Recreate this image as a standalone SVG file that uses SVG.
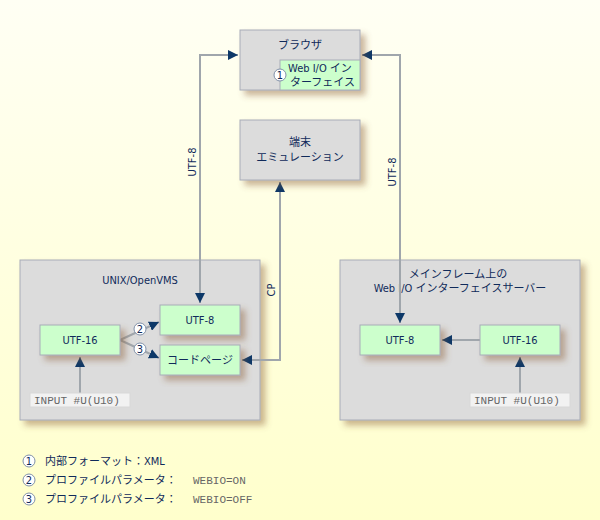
<svg xmlns="http://www.w3.org/2000/svg" width="600" height="520" viewBox="0 0 600 520">
<defs>
<linearGradient id="bg" x1="0" y1="0" x2="0" y2="1">
<stop offset="0" stop-color="#fffff4"/>
<stop offset="1" stop-color="#ffffcc"/>
</linearGradient>
<filter id="sh" x="-20%" y="-20%" width="150%" height="160%">
<feDropShadow dx="5" dy="5" stdDeviation="3" flood-color="#8a5a30" flood-opacity="0.45"/>
</filter>
<marker id="ah" viewBox="0 0 10 10" refX="10" refY="5" markerWidth="10" markerHeight="10" markerUnits="userSpaceOnUse" orient="auto-start-reverse">
<path d="M0,0 L10,5 L0,10 z" fill="#0d3868"/>
</marker>
<style>
.grp{fill:#dcdcdc;stroke:#a8acb8;stroke-width:1}
.box{fill:#dcdcdc;stroke:#a8acb8;stroke-width:1;filter:url(#sh)}
.gbox{fill:#ccffcc;stroke:#a8acb8;stroke-width:1}
.gboxs{fill:#ccffcc;stroke:#a8acb8;stroke-width:1;filter:url(#sh)}
.t{font-family:"DejaVu Sans Condensed","DejaVu Sans","Noto Sans CJK JP",sans-serif;font-size:11px;fill:#102a5a;text-anchor:middle}
.tl{font-family:"DejaVu Sans Condensed","DejaVu Sans","Noto Sans CJK JP",sans-serif;font-size:11px;fill:#102a5a}
.m{font-family:"Liberation Mono","DejaVu Sans Mono",monospace;font-size:11px;fill:#666}
.inp{fill:#f2f2f2;stroke:#d8d8d8;stroke-width:1}
.ln{fill:none;stroke:#a0a6ac;stroke-width:2}
.c{fill:#fff;stroke:#8090a8;stroke-width:1}
.cn{font-family:"DejaVu Sans Condensed","DejaVu Sans",sans-serif;font-size:11px;fill:#102a5a;text-anchor:middle}
</style>
</defs>
<rect width="600" height="520" fill="url(#bg)"/>

<g id="unix-group">
<rect class="grp" x="20" y="260" width="240" height="160" filter="url(#sh)"/>
<text class="t" x="140" y="284">UNIX/OpenVMS</text>
</g>
<g id="mainframe-group">
<rect class="grp" x="340" y="260" width="240" height="160" filter="url(#sh)"/>
<text class="t" x="458" y="278">メインフレーム上の</text>
<text class="t" x="460" y="292">Web I/O インターフェイスサーバー</text>
</g>

<g id="connectors">
<path class="ln" d="M238,55 H200 V303" marker-start="url(#ah)" marker-end="url(#ah)"/>
<path class="ln" d="M362,55 H400 V323" marker-start="url(#ah)" marker-end="url(#ah)"/>
<path class="ln" d="M242,360 H280 V182" marker-start="url(#ah)" marker-end="url(#ah)"/>
<path class="ln" d="M80,393 V357" marker-end="url(#ah)"/>
<path class="ln" d="M520,393 V357" marker-end="url(#ah)"/>
<path class="ln" d="M480,340 H442" marker-end="url(#ah)"/>
<path class="ln" d="M120,340 L159,322" marker-end="url(#ah)"/>
<path class="ln" d="M120,340 L159,358" marker-end="url(#ah)"/>
<circle class="c" cx="140" cy="329" r="6"/>
<text class="cn" x="140" y="333">2</text>
<circle class="c" cx="140" cy="349" r="6"/>
<text class="cn" x="140" y="353">3</text>
<text class="t" transform="translate(196,162) rotate(-90)">UTF-8</text>
<text class="t" transform="translate(396,172) rotate(-90)">UTF-8</text>
<text class="t" transform="translate(275,290) rotate(-90)">CP</text>
</g>

<g id="browser">
<rect class="box" x="240" y="30" width="120" height="60"/>
<text class="t" x="300" y="49">ブラウザ</text>
<rect class="gbox" x="280" y="60" width="80" height="30"/>
<text class="tl" x="288" y="72">Web I/O イン</text>
<text class="tl" x="290" y="86">ターフェイス</text>
<circle class="c" cx="280" cy="75" r="6"/>
<text class="cn" x="280" y="79">1</text>
</g>

<g id="terminal">
<rect class="box" x="240" y="120" width="120" height="60"/>
<text class="t" x="300" y="146">端末</text>
<text class="t" x="300" y="161">エミュレーション</text>
</g>

<g id="unix-utf8">
<rect class="gboxs" x="160" y="305" width="80" height="30"/>
<text class="t" x="200" y="324">UTF-8</text>
</g>
<g id="unix-utf16">
<rect class="gboxs" x="40" y="325" width="80" height="30"/>
<text class="t" x="80" y="344">UTF-16</text>
</g>
<g id="unix-codepage">
<rect class="gboxs" x="160" y="345" width="80" height="30"/>
<text class="t" x="200" y="364">コードページ</text>
</g>
<g id="unix-input">
<rect class="inp" x="30" y="393" width="100" height="14"/>
<text class="m" x="34" y="404">INPUT #U(U10)</text>
</g>

<g id="mf-utf8">
<rect class="gboxs" x="360" y="325" width="80" height="30"/>
<text class="t" x="400" y="344">UTF-8</text>
</g>
<g id="mf-utf16">
<rect class="gboxs" x="480" y="325" width="80" height="30"/>
<text class="t" x="520" y="344">UTF-16</text>
</g>
<g id="mf-input">
<rect class="inp" x="470" y="393" width="100" height="14"/>
<text class="m" x="474" y="404">INPUT #U(U10)</text>
</g>

<g id="legend">
<circle class="c" cx="29" cy="461" r="6"/>
<text class="cn" x="29" y="465">1</text>
<text class="tl" x="45" y="465">内部フォーマット：XML</text>
<circle class="c" cx="29" cy="480" r="6"/>
<text class="cn" x="29" y="484">2</text>
<text class="tl" x="45" y="484">プロファイルパラメータ：</text>
<text class="m" x="193" y="484">WEBIO=ON</text>
<circle class="c" cx="29" cy="499" r="6"/>
<text class="cn" x="29" y="503">3</text>
<text class="tl" x="45" y="503">プロファイルパラメータ：</text>
<text class="m" x="193" y="503">WEBIO=OFF</text>
</g>
</svg>
